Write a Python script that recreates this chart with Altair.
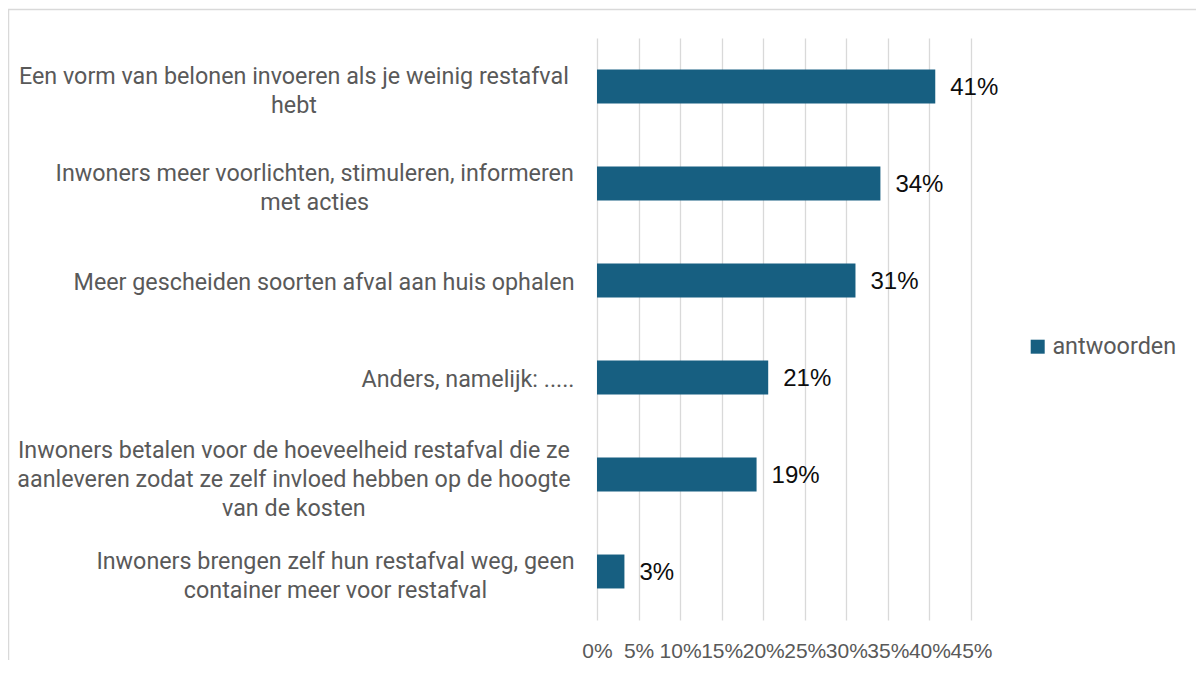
import altair as alt
import pandas as pd

categories = [
    "Een vorm van belonen invoeren als je weinig restafval|hebt",
    "Inwoners meer voorlichten, stimuleren, informeren|met acties",
    "Meer gescheiden soorten afval aan huis ophalen",
    "Anders, namelijk: .....",
    "Inwoners betalen voor de hoeveelheid restafval die ze|aanleveren zodat ze zelf invloed hebben op de hoogte|van de kosten",
    "Inwoners brengen zelf hun restafval weg, geen|container meer voor restafval",
]
values = [0.407, 0.341, 0.311, 0.206, 0.192, 0.033]
value_labels = ["41%", "34%", "31%", "21%", "19%", "3%"]
series = ["antwoorden"]
x_ticks = [0, 0.05, 0.10, 0.15, 0.20, 0.25, 0.30, 0.35, 0.40, 0.45]

df = pd.DataFrame({
    "categorie": categories,
    "waarde": values,
    "label": value_labels,
    "reeks": series * len(categories),
})

BAR = "#175f81"
GRID = "#d9d9d9"
GRAY = "#595959"
CAT_FONT = "Roboto"
NUM_FONT = "Liberation Sans"

multi = "length(split(datum.value, '|')) > 1"

y_enc = alt.Y(
    "categorie:N",
    sort=categories,
    scale=alt.Scale(paddingInner=0.65, paddingOuter=0.325),
    axis=alt.Axis(
        title=None,
        labelExpr="split(datum.value, '|')",
        labelFont=CAT_FONT,
        labelFontSize=23.3,
        labelColor=GRAY,
        labelLineHeight=29,
        labelLimit=800,
        ticks=False,
        tickSize=0,
        domain=False,
        grid=False,
        labelBaseline="middle",
        labelOffset={"condition": {"test": multi,
                                   "expr": "3.5 - 13.5 * (length(split(datum.value, '|')) - 1)"},
                     "value": 2},
        labelAlign={"condition": {"test": multi, "value": "center"}, "value": "right"},
        labelPadding={"condition": {"test": multi,
                                    "expr": "28 + 5.2 * length(split(datum.value, '|')[0])"},
                      "value": 23},
    ),
)

x_enc = alt.X(
    "waarde:Q",
    scale=alt.Scale(domain=[0, 0.45], nice=False),
    axis=alt.Axis(
        title=None,
        values=x_ticks,
        format=".0%",
        labelFont=NUM_FONT,
        labelFontSize=21,
        labelColor=GRAY,
        labelOverlap=False,
        labelFlush=False,
        labelPadding=20,
        ticks=False,
        tickSize=0,
        domain=False,
        grid=True,
        gridColor=GRID,
        gridWidth=1.3,
    ),
)

frame = alt.Chart(alt.Data(values=[{}])).mark_rect(
    fill="white", fillOpacity=0, stroke=GRID, strokeWidth=1.5
).encode(
    x=alt.value(-588.5), x2=alt.value(700), y=alt.value(-28.5), y2=alt.value(700)
)

bars = alt.Chart(df).mark_bar().encode(
    x=x_enc,
    y=y_enc,
    color=alt.Color(
        "reeks:N",
        scale=alt.Scale(domain=series, range=[BAR]),
        legend=alt.Legend(
            title=None,
            orient="none",
            legendX=429,
            legendY=297,
            symbolType="square",
            symbolSize=196,
            symbolStrokeWidth=0,
            labelFont=CAT_FONT,
            labelFontSize=23.4,
            labelColor=GRAY,
            labelOffset=3,
            padding=0,
        ),
    ),
)

texts = alt.Chart(df).mark_text(
    align="left", baseline="middle", dx=15, dy=1,
    font=NUM_FONT, fontSize=24, color="#0d0d0d"
).encode(
    x="waarde:Q",
    y=alt.Y("categorie:N", sort=categories),
    text="label:N",
)

chart = alt.layer(frame, bars, texts).properties(
    width=374,
    height=582,
    autosize=alt.AutoSizeParams(type="none"),
    padding={"left": 589, "top": 30, "right": 225, "bottom": 40},
    background="white",
).configure_view(stroke=None)

chart.save("out.html", embed_options={"renderer": "svg", "actions": False})
